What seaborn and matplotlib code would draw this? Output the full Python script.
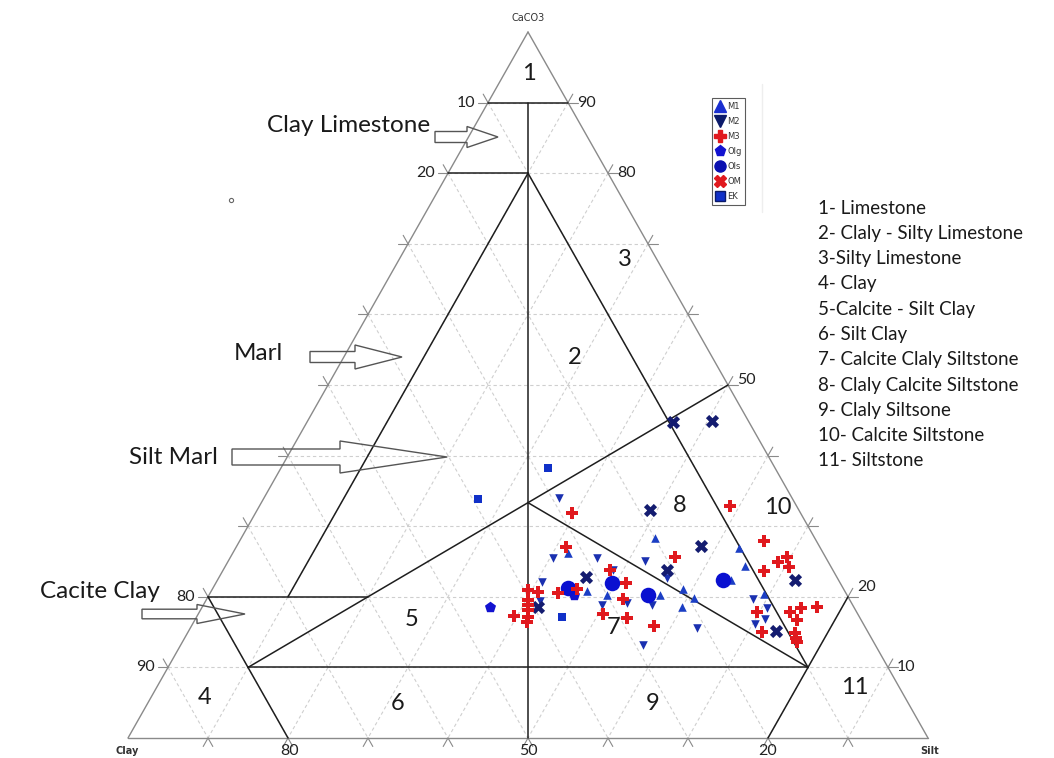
import numpy as np
import pandas as pd
import matplotlib
matplotlib.use("Agg")
import matplotlib.pyplot as plt
import seaborn as sns
from matplotlib.patches import Polygon
from matplotlib.lines import Line2D

# ---------------------------------------------
# sample data: CaCO3 % and Silt % (Clay = rest)
# ---------------------------------------------
m1_carb = [26.2, 20.8, 20.3, 20.3, 28.3, 21.1, 18.6, 19.8, 26.9, 24.4, 20.4, 22.4]
m1_silt = [41.9, 47.0, 49.7, 56.4, 51.7, 58.8, 60.0, 60.9, 62.9, 64.9, 69.3, 64.2]

m2_carb = [34.0, 25.5, 25.5, 22.1, 19.4, 23.8, 25.1, 22.7, 18.8, 19.1, 18.8, 13.2,
           15.6, 19.7, 18.4, 16.9, 16.1]
m2_silt = [36.9, 40.4, 45.9, 40.7, 41.8, 48.7, 52.1, 56.0, 49.9, 52.8, 56.1, 57.8,
           63.3, 68.3, 70.7, 71.2, 70.3]

m3_carb = [31.9, 27.1, 23.8, 22.0, 21.1, 20.5, 20.7, 21.0, 19.5, 18.8, 18.1, 17.1,
           16.4, 17.3, 19.7, 17.0, 17.6, 15.9, 25.6, 32.9, 27.9, 24.9, 25.6, 24.2,
           23.7, 17.8, 15.0, 17.8, 18.4, 18.6, 16.7, 14.9, 14.2, 13.6]
m3_silt = [39.6, 41.2, 48.3, 51.3, 45.6, 43.5, 40.9, 39.5, 40.2, 40.6, 40.9, 41.4,
           41.7, 39.6, 52.0, 53.9, 50.6, 57.8, 55.6, 58.8, 65.5, 68.8, 69.6, 70.5,
           67.7, 69.7, 71.8, 73.9, 74.9, 76.8, 75.3, 75.9, 76.4, 76.8]

olg_carb = [18.6, 20.3]
olg_silt = [36.0, 45.6]

ols_carb = [21.2, 22.0, 20.3, 22.4]
ols_silt = [44.4, 49.5, 54.8, 63.2]

om_carb = [44.8, 44.9, 32.3, 27.2, 23.8, 22.8, 18.6, 22.4, 15.2]
om_silt = [45.7, 50.6, 49.1, 58.0, 55.5, 45.9, 42.0, 72.2, 73.4]

ek_carb = [38.2, 33.9, 17.1]
ek_silt = [33.4, 26.8, 45.7]

class_names = ["1- Limestone", "2- Claly - Silty Limestone", "3-Silty Limestone",
               "4- Clay", "5-Calcite - Silt Clay", "6- Silt Clay",
               "7- Calcite Claly Siltstone", "8- Claly Calcite Siltstone",
               "9- Claly Siltsone", "10- Calcite Siltstone", "11- Siltstone"]

# build one table
parts = []
for name, c, s in [("M1", m1_carb, m1_silt), ("M2", m2_carb, m2_silt),
                   ("M3", m3_carb, m3_silt), ("Olg", olg_carb, olg_silt),
                   ("Ols", ols_carb, ols_silt), ("OM", om_carb, om_silt),
                   ("EK", ek_carb, ek_silt)]:
    parts.append(pd.DataFrame({"group": name, "carb": c, "silt": s}))
df = pd.concat(parts, ignore_index=True)
df["clay"] = 100 - df["carb"] - df["silt"]
# ternary -> cartesian (x along base, y = CaCO3)
df["x"] = df["silt"] + df["carb"] / 2
df["y"] = df["carb"]

sns.set_style("white")
plt.rcParams["font.family"] = ["Lato", "DejaVu Sans"]

W, H = 1054, 758
fig = plt.figure(figsize=(W / 100, H / 100), dpi=100)
ax = fig.add_axes([128 / W, 20 / H, 800 / W, 706 / H])
ax.set_xlim(0, 100)
ax.set_ylim(0, 100)
ax.axis("off")


def pt(clay, silt, carb):
    return silt + carb / 2, carb


def seg(p, q, **kw):
    x0, y0 = pt(*p)
    x1, y1 = pt(*q)
    ax.plot([x0, x1], [y0, y1], clip_on=False, **kw)


# dashed grid + edge ticks
grid_kw = dict(color="#cfcfcf", lw=0.8, ls=(0, (3, 2.5)), zorder=1)
tick_kw = dict(color="#8a8a8a", lw=0.8, zorder=1)
e = 1.2
for k in range(10, 100, 10):
    seg((100 - k, 0, k), (0, 100 - k, k), **grid_kw)
    seg((0, k, 100 - k), (100 - k, k, 0), **grid_kw)
    seg((k, 0, 100 - k), (k, 100 - k, 0), **grid_kw)
    seg((100 - k + e, -e, k), (100 - k, 0, k), **tick_kw)
    seg((-e, 100 - k + e, k), (0, 100 - k, k), **tick_kw)
    seg((100 - k + e, k, -e), (100 - k, k, 0), **tick_kw)
    seg((-e, k, 100 - k + e), (0, k, 100 - k), **tick_kw)
    seg((k, 100 - k + e, -e), (k, 100 - k, 0), **tick_kw)
    seg((k, -e, 100 - k + e), (k, 0, 100 - k), **tick_kw)

# outline
for p, q in [((100, 0, 0), (0, 100, 0)), ((0, 100, 0), (0, 0, 100)), ((0, 0, 100), (100, 0, 0))]:
    seg(p, q, color="#8a8a8a", lw=1.0, zorder=2)

# classification boundaries
cls_kw = dict(color="#1e1e1e", lw=1.1, zorder=2)
third = 100 / 3
for p, q in [((10, 0, 90), (0, 10, 90)),
             ((5, 5, 90), (50, 50, 0)),
             ((20, 0, 80), (10, 10, 80)),
             ((10, 10, 80), (70, 10, 20)),
             ((10, 10, 80), (10, 80, 10)),
             ((80, 0, 20), (60, 20, 20)),
             ((80, 0, 20), (80, 20, 0)),
             ((80, 10, 10), (0, 50, 50)),
             ((80, 10, 10), (10, 80, 10)),
             ((third, third, third), (10, 80, 10)),
             ((0, 80, 20), (20, 80, 0))]:
    seg(p, q, **cls_kw)

# samples
style = {
    "M1": dict(marker="^", color="#1b3ec4", s=38),
    "M2": dict(marker="v", color="#1a30b0", s=38),
    "M3": dict(marker="P", color="#e0191e", s=78),
    "Olg": dict(marker="p", color="#1212d0", s=70),
    "Ols": dict(marker="o", color="#0a10d0", s=125),
    "OM": dict(marker="X", color="#141c70", s=90),
    "EK": dict(marker="s", color="#1030c8", s=40),
}
for g in ["M2", "M1", "EK", "Olg", "Ols", "OM", "M3"]:
    sub = df[df["group"] == g]
    st = style[g]
    sns.scatterplot(data=sub, x="x", y="y", ax=ax, marker=st["marker"], color=st["color"],
                    s=st["s"], linewidth=0, zorder=4, legend=False, clip_on=False)
ax.set_xlabel("")
ax.set_ylabel("")

# stray small circle
ax.plot((231 - 128) / 8, (738 - 200) / 7.06, "o", ms=3, mfc="white", mec="#666666",
        mew=0.8, clip_on=False)


def ftxt(px, py, s, **kw):
    fig.text(px / W, 1 - py / H, s, **kw)


# corner labels
ftxt(528, 18, "CaCO3", fontsize=7, ha="center", va="center", family="DejaVu Sans", color="#333333")
ftxt(127, 751, "Clay", fontsize=7, ha="center", va="center", family="DejaVu Sans",
     fontweight="bold", color="#333333")
ftxt(930, 751, "Silt", fontsize=7, ha="center", va="center", family="DejaVu Sans",
     fontweight="bold", color="#333333")

# edge tick labels
lab_kw = dict(fontsize=11.5, va="center", color="#222222")
for carb, txt in [(90, "10"), (80, "20"), (20, "80"), (10, "90")]:
    xp = 128 + 8 * carb / 2
    yp = 738 - 7.06 * carb
    ftxt(xp - 13, yp, txt, ha="right", **lab_kw)
for carb, txt, dy in [(90, "90", 0), (80, "80", 0), (50, "50", -5), (20, "20", -10), (10, "10", 0)]:
    xp = 128 + 8 * (100 - carb / 2)
    yp = 738 - 7.06 * carb
    ftxt(xp + 9, yp + dy, txt, ha="left", **lab_kw)
for xp, txt in [(290, "80"), (528, "50"), (768, "20")]:
    ftxt(xp, 744, txt, ha="center", va="top", fontsize=11.5, color="#222222")

# region numbers
for xp, yp, txt in [(529, 74, "1"), (575, 358, "2"), (625, 260, "3"), (205, 697, "4"),
                    (412, 620, "5"), (398, 703, "6"), (614, 627, "7"), (680, 505, "8"),
                    (653, 703, "9"), (778, 508, "10"), (855, 688, "11")]:
    ftxt(xp, yp, txt, fontsize=17, ha="center", va="center", color="#1a1a1a")

# rock names with block arrows
name_kw = dict(fontsize=17.5, ha="right", va="center", color="#1a1a1a")
ftxt(430, 125, "Clay Limestone", **name_kw)
ftxt(283, 353, "Marl", **name_kw)
ftxt(218, 457, "Silt Marl", **name_kw)
ftxt(160, 591, "Cacite Clay", **name_kw)


def block_arrow(x0, xh, x1, yc, hs, hh):
    pts = [(x0, yc - hs), (xh, yc - hs), (xh, yc - hh), (x1, yc),
           (xh, yc + hh), (xh, yc + hs), (x0, yc + hs)]
    pts = [(px / W, 1 - py / H) for px, py in pts]
    fig.patches.append(Polygon(pts, closed=True, fill=False, ec="#555555", lw=1.0,
                               transform=fig.transFigure))


block_arrow(435, 467, 498, 137, 5.5, 10.5)
block_arrow(310, 355, 402, 357, 5.5, 12)
block_arrow(232, 340, 447, 457, 8, 16)
block_arrow(142, 197, 245, 614, 4.8, 9.5)

# class list
for i, txt in enumerate(class_names):
    ftxt(818, 208 + i * 25.3, txt, fontsize=13.5, ha="left", va="center", color="#1a1a1a")

# sample legend (OM shown red in the key)
handles = [
    Line2D([], [], ls="none", marker="^", color="#1a2fd0", ms=8),
    Line2D([], [], ls="none", marker="v", color="#0b1a6a", ms=8),
    Line2D([], [], ls="none", marker="P", color="#e0191e", ms=8),
    Line2D([], [], ls="none", marker="p", color="#1212d0", ms=8),
    Line2D([], [], ls="none", marker="o", color="#0a10b0", ms=8),
    Line2D([], [], ls="none", marker="X", color="#e0191e", ms=8),
    Line2D([], [], ls="none", marker="s", color="#1030c8", mec="#0b1a6a", ms=7),
]
leg = fig.legend(handles, ["M1", "M2", "M3", "Olg", "Ols", "OM", "EK"],
                 loc="upper left", bbox_to_anchor=(712 / W, 1 - 98 / H),
                 fontsize=6, frameon=True, fancybox=False, edgecolor="#333333",
                 handlelength=1.1, handletextpad=0.25, borderpad=0.45,
                 labelspacing=0.72, borderaxespad=0)
leg.get_frame().set_linewidth(0.8)
for t in leg.get_texts():
    t.set_color("#333333")
    t.set_family("DejaVu Sans")
fig.add_artist(Line2D([762 / W, 762 / W], [1 - 84 / H, 1 - 212 / H], color="#eeeeee",
                      lw=1, transform=fig.transFigure))

fig.savefig("out.png", dpi=100, facecolor="white")
